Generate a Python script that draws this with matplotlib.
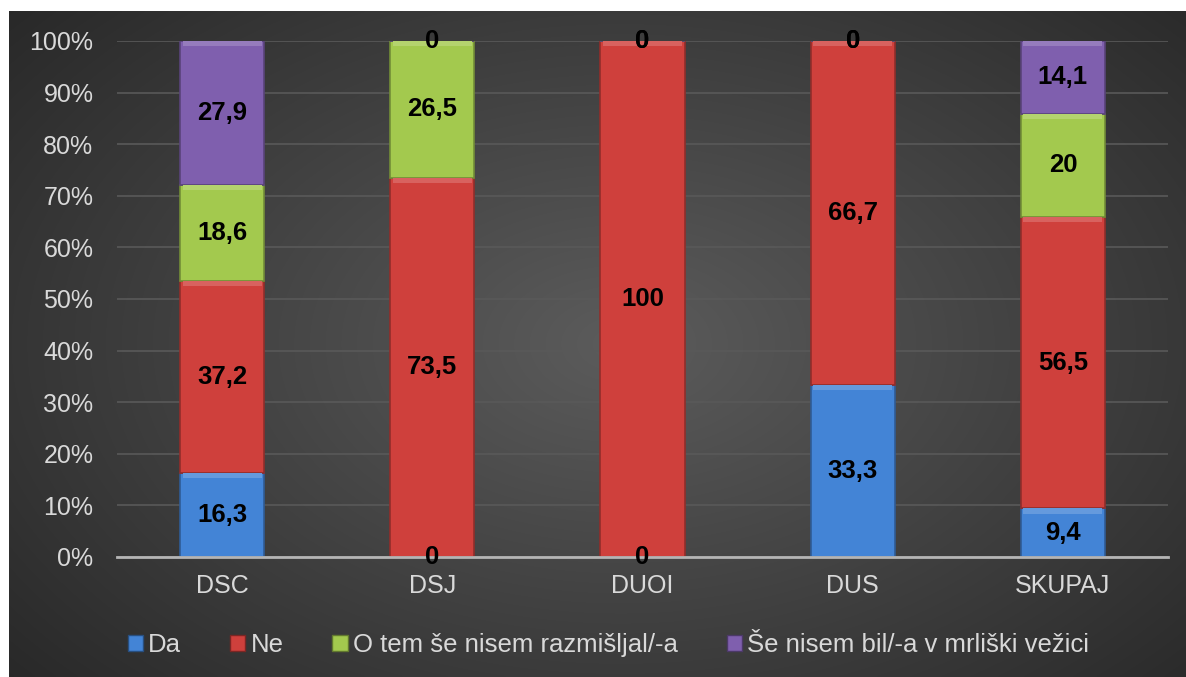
import numpy as np
import matplotlib
matplotlib.use("Agg")
import matplotlib.pyplot as plt
from matplotlib.patches import Patch
from matplotlib.colors import to_rgb

plt.rcParams["font.family"] = ["Liberation Sans", "DejaVu Sans"]

# ─── Data ─────────────────────────────────────────────────────────
categories = ["DSC", "DSJ", "DUOI", "DUS", "SKUPAJ"]
series_names = ["Da", "Ne", "O tem še nisem razmišljal/-a", "Še nisem bil/-a v mrliški vežici"]
da = [16.3, 0, 0, 33.3, 9.4]
ne = [37.2, 73.5, 100, 66.7, 56.5]
o_tem = [18.6, 26.5, 0, 0, 20]
se_nisem = [27.9, 0, 0, 0, 14.1]
colors = ["#4384d6", "#cf403c", "#a3c94e", "#7f5fae"]
y_ticks = [0, 10, 20, 30, 40, 50, 60, 70, 80, 90, 100]


def _fmt(v):
    if float(v).is_integer():
        return f"{int(v)}"
    return f"{v:.1f}".replace(".", ",")


def _shade(c, f):
    r, g, b = to_rgb(c)
    if f < 1:
        return (r * f, g * f, b * f)
    return (r + (1 - r) * (f - 1), g + (1 - g) * (f - 1), b + (1 - b) * (f - 1))


fig = plt.figure(figsize=(11.86, 6.77), dpi=100, facecolor="white")

# ─── Dark radial background panel ────────────────────────────────
bg = fig.add_axes([9 / 1186, 0, 1 - 9 / 1186, 1 - 11 / 677], zorder=-5)
yy, xx = np.mgrid[0:1:300j, 0:1:500j]
r = np.sqrt(((xx - 0.52) / 0.75) ** 2 + ((yy - 0.5) / 0.85) ** 2)
val = np.clip(0.36 - 0.22 * r, 0.13, 0.36)
bg.imshow(np.dstack([val, val, val]), aspect="auto", extent=[0, 1, 0, 1], interpolation="bilinear")
bg.axis("off")

# ─── Stacked bars ─────────────────────────────────────────────────
ax = fig.add_axes([117 / 1186, 120 / 677, 1051 / 1186, 516 / 677])
ax.patch.set_alpha(0)

x = np.arange(len(categories))
bar_w = 0.4
bottom = np.zeros(len(categories))
for name, vals, col in zip(series_names, [da, ne, o_tem, se_nisem], colors):
    vals = np.array(vals, dtype=float)
    ax.bar(x, vals, bottom=bottom, width=bar_w, color=col,
           edgecolor=_shade(col, 0.7), linewidth=1.2, zorder=3)
    # subtle bevel on top of each segment
    hl = np.where(vals > 0, np.minimum(vals, 1.0), 0)
    ax.bar(x, hl, bottom=bottom + vals - hl, width=bar_w * 0.94,
           color=_shade(col, 1.18), linewidth=0, zorder=4)
    for xi, b, v in zip(x, bottom, vals):
        ax.text(xi, b + v / 2, _fmt(v), ha="center", va="center",
                fontsize=18.5, fontweight="bold", color="black", zorder=6)
    bottom += vals

ax.set_xlim(-0.5, len(categories) - 0.5)
ax.set_ylim(0, 100)
ax.set_yticks(y_ticks)
ax.set_yticklabels([f"{t}%" for t in y_ticks])
ax.set_xticks(x)
ax.set_xticklabels(categories)
ax.tick_params(axis="both", length=0, labelsize=18, colors="#d9d9d9")
ax.tick_params(axis="y", pad=17)
ax.tick_params(axis="x", pad=12)
ax.yaxis.grid(True, color="#595959", linewidth=1.2, zorder=0)
ax.set_axisbelow(True)
for s in ["top", "right", "left"]:
    ax.spines[s].set_visible(False)
ax.spines["bottom"].set_color("#b5b5b5")
ax.spines["bottom"].set_linewidth(2)
ax.spines["bottom"].set_zorder(5)

handles = [Patch(facecolor=c, edgecolor=_shade(c, 0.6), linewidth=1) for c in colors]
fig.legend(handles, series_names, loc="center", bbox_to_anchor=(0.513, 0.047),
           ncol=4, frameon=False, fontsize=18.5, labelcolor="#d9d9d9",
           handlelength=0.6, handleheight=0.6, handletextpad=0.2, columnspacing=1.9)

fig.savefig("out.png", dpi=100, facecolor="white")
